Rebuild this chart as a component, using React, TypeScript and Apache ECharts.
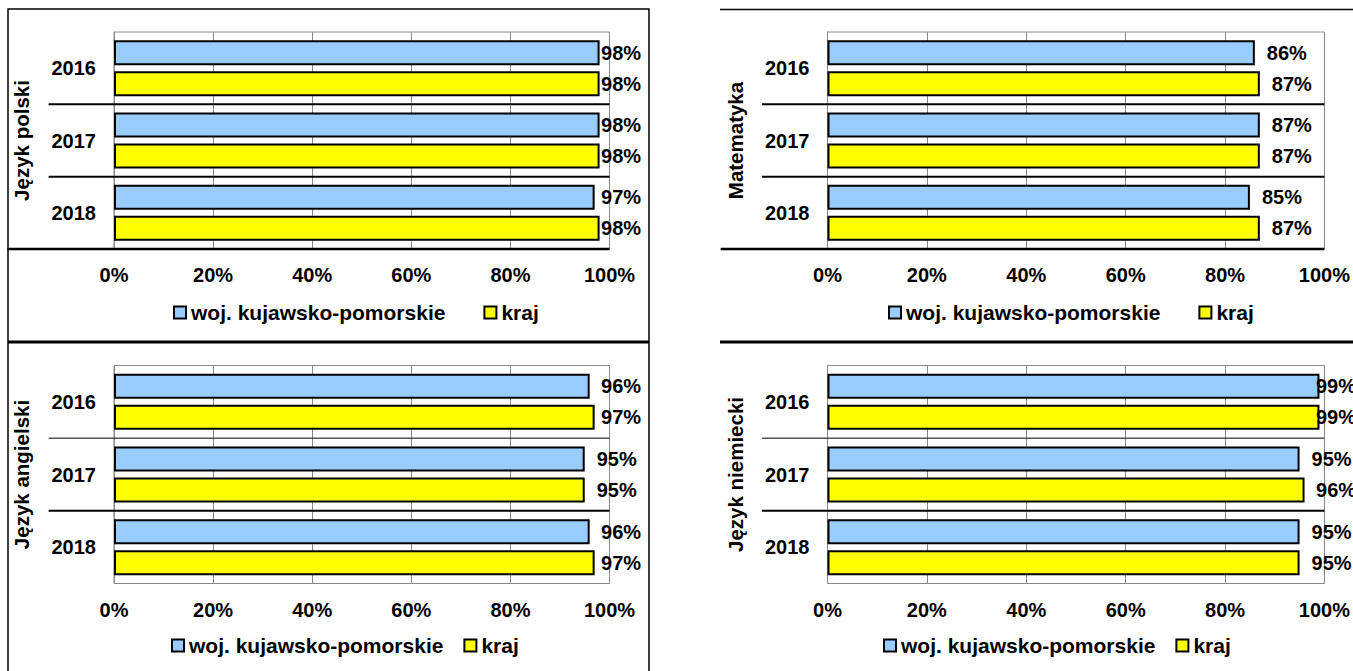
import React, { useEffect, useRef } from "react";
import * as echarts from "echarts";

const years = ["2016", "2017", "2018"];
const seriesNames = ["woj. kujawsko-pomorskie", "kraj"];
const subjects = ["Język polski", "Matematyka", "Język angielski", "Język niemiecki"];

const polskiWoj = [98, 98, 97];
const polskiKraj = [98, 98, 98];
const matWoj = [86, 87, 85];
const matKraj = [87, 87, 87];
const angWoj = [96, 95, 96];
const angKraj = [97, 95, 97];
const niemWoj = [99, 95, 95];
const niemKraj = [99, 96, 95];

const FONT = "'Liberation Sans', Arial, sans-serif";
const BLUE = "#99CCFF";
const YELLOW = "#FFFF00";

const panels = [
  { name: subjects[0], woj: polskiWoj, kraj: polskiKraj, left: 114, width: 495.5, top: 32, height: 217, legendLeft: 173, legendTop: 302, legendGap: 38, cap: 98.3, sepW: [2, 2], bottomLine: true },
  { name: subjects[1], woj: matWoj, kraj: matKraj, left: 827.5, width: 500, top: 32, height: 217, legendLeft: 888, legendTop: 302, legendGap: 38, cap: 99, sepW: [2, 2], bottomLine: true },
  { name: subjects[2], woj: angWoj, kraj: angKraj, left: 114, width: 495.5, top: 365.5, height: 218, legendLeft: 171, legendTop: 635, legendGap: 20, cap: 98.3, sepW: [1, 2], bottomLine: false },
  { name: subjects[3], woj: niemWoj, kraj: niemKraj, left: 827.5, width: 500, top: 365.5, height: 218, legendLeft: 883, legendTop: 635, legendGap: 20, cap: 98.3, sepW: [1, 2], bottomLine: false },
];

const txt = { fontFamily: FONT, fontWeight: "bold" as const, fontSize: 20, color: "#000" };

function buildOption() {
  const grid: any[] = [];
  const xAxis: any[] = [];
  const yAxis: any[] = [];
  const series: any[] = [];
  const legend: any[] = [];

  panels.forEach((p, i) => {
    const pxPerUnit = p.width / 100;
    grid.push({ left: p.left, top: p.top, width: p.width, height: p.height, show: true, borderColor: "#8a8a8a", borderWidth: 1 });
    xAxis.push({
      type: "value", gridIndex: i, min: 0, max: 100, interval: 20,
      axisLine: { show: false },
      axisTick: { show: true, length: 6, lineStyle: { color: "#8a8a8a", width: 1 } },
      splitLine: { show: true, lineStyle: { color: "#8a8a8a", width: 1 } },
      axisLabel: { ...txt, margin: 16, formatter: "{value}%" },
    });
    yAxis.push({
      type: "category", gridIndex: i, data: years, inverse: true,
      axisLine: { show: true, lineStyle: { color: "#8a8a8a", width: 1 } },
      axisTick: { show: false },
      splitLine: { show: false },
      axisLabel: { ...txt, margin: 18 },
      name: p.name, nameLocation: "middle", nameRotate: 90, nameGap: 82,
      nameTextStyle: { ...txt, fontSize: 20.5 },
    });
    yAxis.push({ type: "value", gridIndex: i, min: 0, max: 3, inverse: true, show: false });

    const mkData = (vals: number[]) =>
      vals.map((v) => ({ value: v, label: { distance: Math.min(12, (p.cap - v) * pxPerUnit) } }));

    [p.woj, p.kraj].forEach((vals, k) => {
      series.push({
        type: "bar", name: seriesNames[k], xAxisIndex: i, yAxisIndex: 2 * i,
        data: mkData(vals), barWidth: 25, barGap: "24%",
        itemStyle: { color: k === 0 ? BLUE : YELLOW, borderColor: "#000", borderWidth: 2 },
        label: { show: true, position: "right", formatter: "{c}%", ...txt },
        emphasis: { disabled: true },
      });
    });

    // separators between year groups: [x start, boundary index, line width]
    const sepData: number[][] = [
      [-13.2, 1, p.sepW[0]],
      [-13.2, 2, p.sepW[1]],
    ];
    if (p.bottomLine) sepData.push([-21.5, 3, 2.5]);
    series.push({
      type: "custom", name: "sep" + i, xAxisIndex: i, yAxisIndex: 2 * i + 1, clip: false, silent: true, z: 5,
      data: sepData,
      renderItem: (_params: any, api: any) => {
        const a = api.coord([api.value(0), api.value(1)]);
        const b = api.coord([100, api.value(1)]);
        return {
          type: "line",
          shape: { x1: a[0], y1: a[1], x2: b[0], y2: b[1] },
          style: { stroke: "#000", lineWidth: api.value(2) },
        };
      },
    });

    legend.push({
      left: p.legendLeft, top: p.legendTop, padding: 0, itemGap: p.legendGap,
      itemWidth: 12, itemHeight: 12, icon: "rect", selectedMode: false,
      data: seriesNames, textStyle: { ...txt, fontSize: 21 },
    });
  });

  const graphic: any[] = [
    { type: "rect", shape: { x: 8, y: 9, width: 641, height: 700 }, style: { fill: "none", stroke: "#000", lineWidth: 1.5 }, silent: true },
    { type: "line", shape: { x1: 720, y1: 9.5, x2: 1353, y2: 9.5 }, style: { stroke: "#000", lineWidth: 1.5 }, silent: true },
    { type: "line", shape: { x1: 8, y1: 342, x2: 649, y2: 342 }, style: { stroke: "#000", lineWidth: 3 }, silent: true },
    { type: "line", shape: { x1: 720, y1: 342, x2: 1353, y2: 342 }, style: { stroke: "#000", lineWidth: 3 }, silent: true },
  ];

  return { animation: false, backgroundColor: "#fff", textStyle: { fontFamily: FONT }, grid, xAxis, yAxis, series, legend, graphic };
}

export default function App() {
  const ref = useRef<HTMLDivElement>(null);
  useEffect(() => {
    if (!ref.current) return;
    const chart = echarts.init(ref.current, undefined, { renderer: "svg" });
    chart.setOption(buildOption() as any);
    return () => chart.dispose();
  }, []);
  return <div ref={ref} style={{ position: "absolute", left: 0, top: 0, width: 1353, height: 671 }} />;
}
